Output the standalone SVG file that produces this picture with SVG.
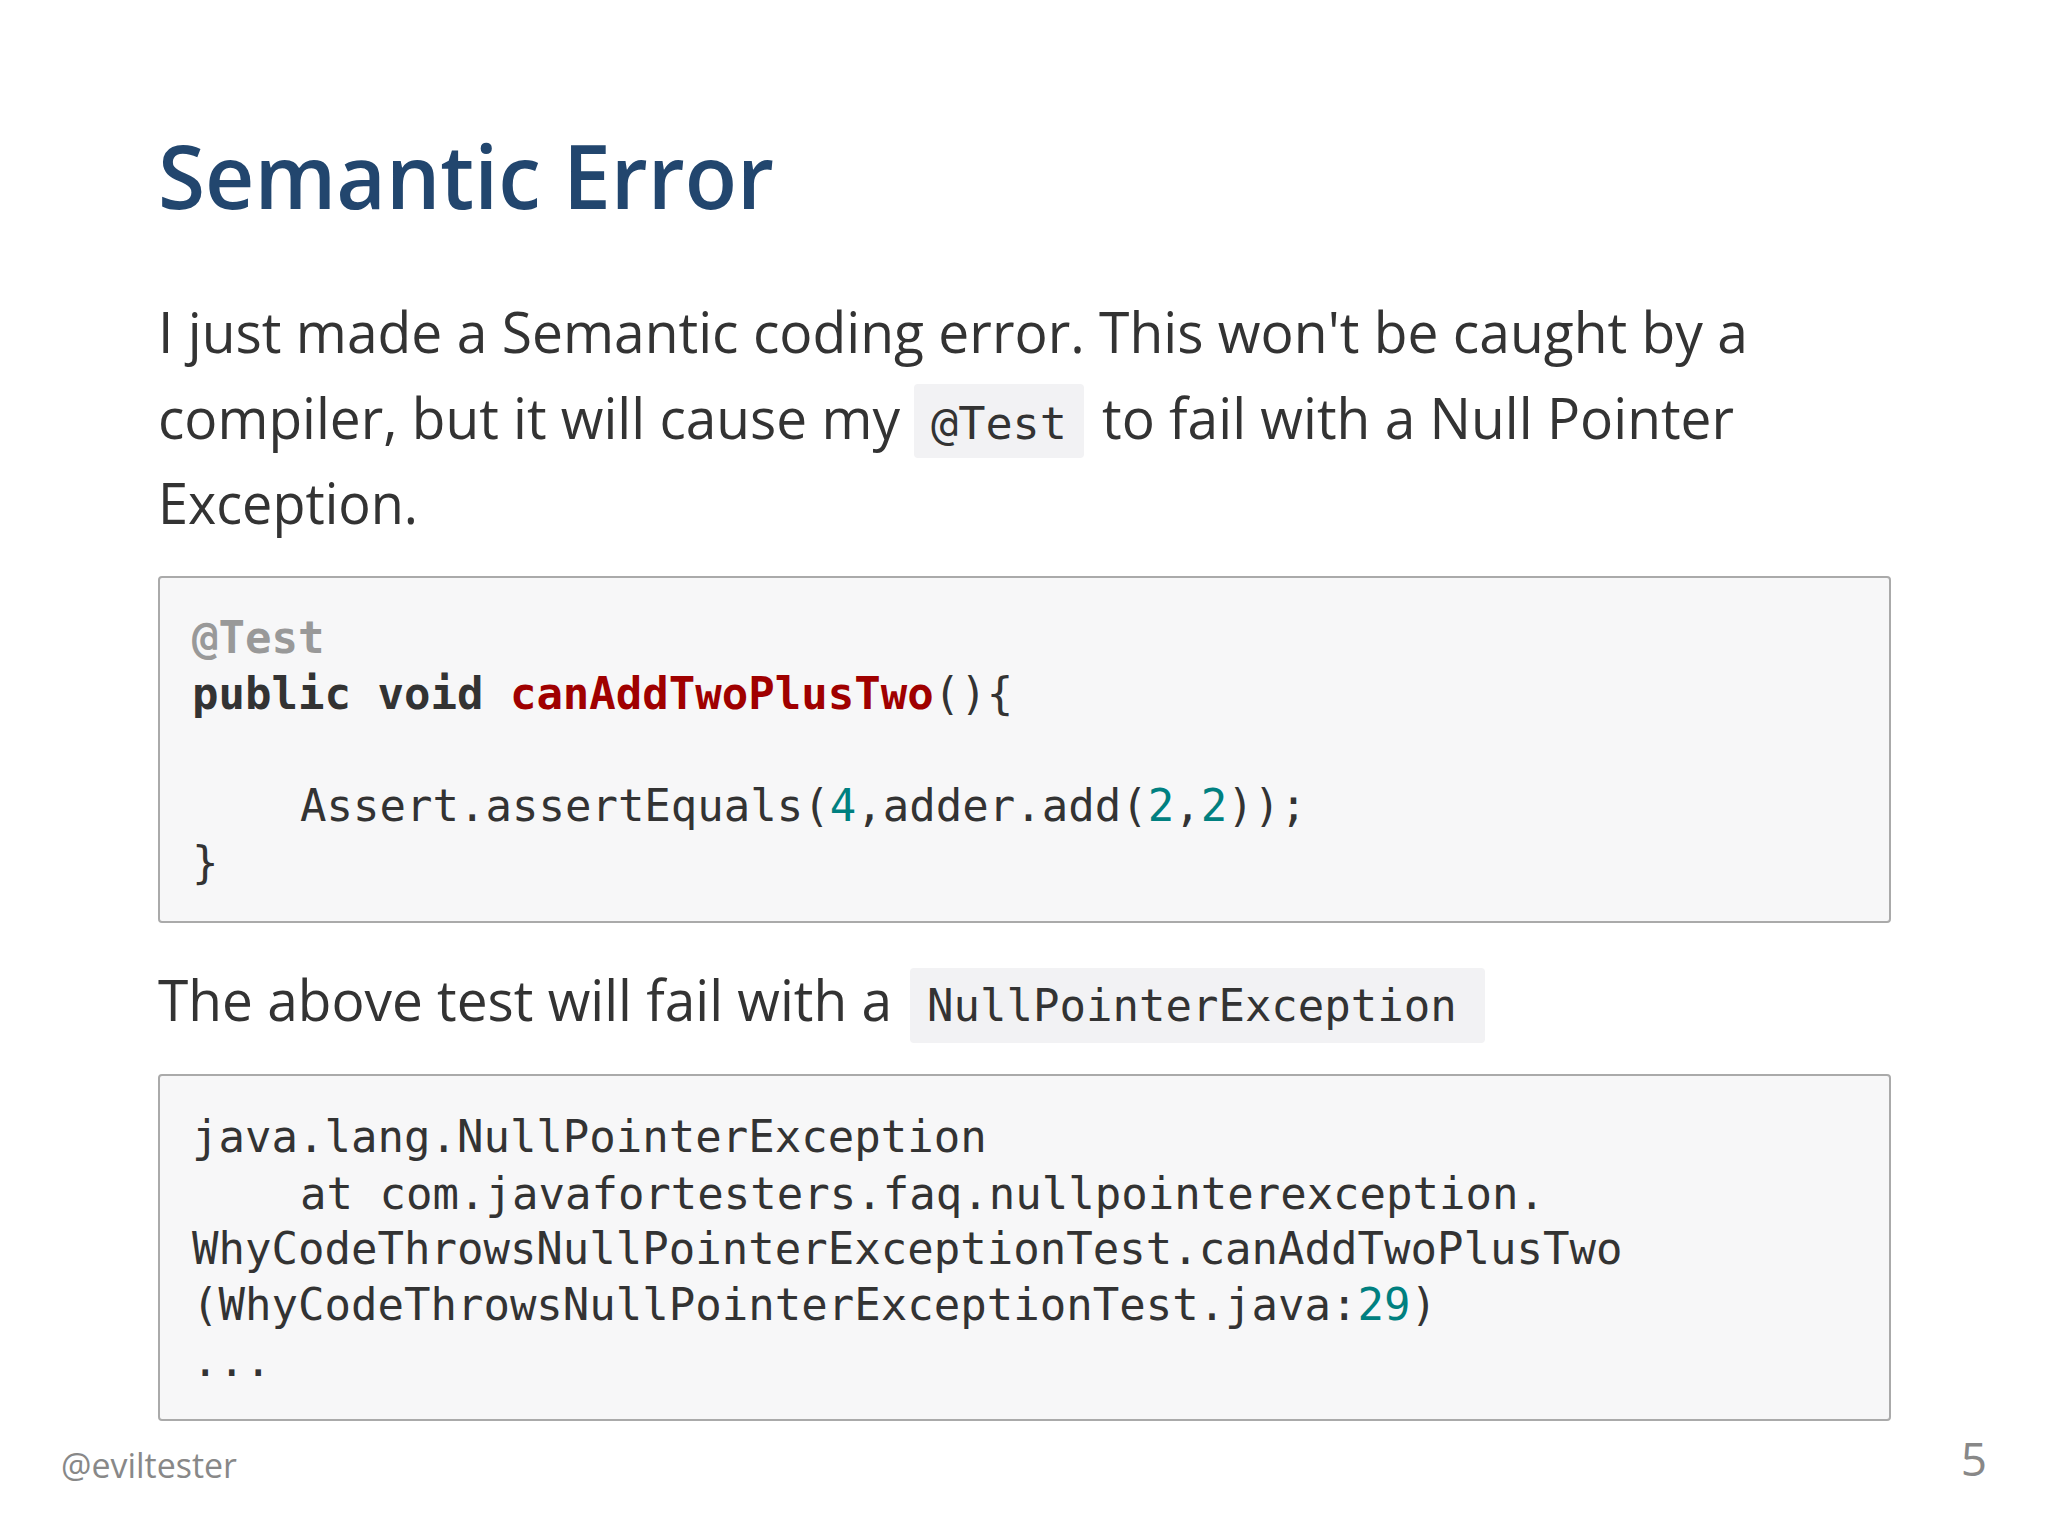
<svg xmlns="http://www.w3.org/2000/svg" width="2048" height="1536" viewBox="0 0 2048 1536">
<style>
.p{font-family:"Open Sans","Noto Sans",sans-serif;font-size:56px;fill:#333}
.m{font-family:"DejaVu Sans Mono","Liberation Mono",monospace;font-size:44px;fill:#333}
.n{fill:#008080}
.box{fill:#f7f7f8;stroke:#aaaaaa;stroke-width:2}
.chip{fill:#f2f2f4}
</style>
<rect width="2048" height="1536" fill="#ffffff"/>
<text x="158" y="209" font-family="Open Sans,Noto Sans,sans-serif" font-size="88" font-weight="600" fill="#22466e" textLength="616" lengthAdjust="spacingAndGlyphs">Semantic Error</text>
<g id="para">
<text class="p" x="158" y="353" textLength="1590" lengthAdjust="spacingAndGlyphs">I just made a Semantic coding error. This won't be caught by a</text>
<text class="p" x="158" y="439" textLength="742" lengthAdjust="spacingAndGlyphs">compiler, but it will cause my</text>
<rect class="chip" x="914" y="384" width="170" height="74" rx="4"/>
<text class="m" x="931" y="439" textLength="136" lengthAdjust="spacingAndGlyphs">@Test</text>
<text class="p" x="1102" y="439" textLength="632" lengthAdjust="spacingAndGlyphs">to fail with a Null Pointer</text>
<text class="p" x="158" y="524" textLength="260" lengthAdjust="spacingAndGlyphs">Exception.</text>
</g>
<g id="code1">
<rect class="box" x="159" y="577" width="1731" height="345" rx="3"/>
<text class="m" x="192" y="653" font-weight="bold" fill="#999999" style="fill:#999">@Test</text>
<text class="m" x="192" y="709" font-weight="bold">public void <tspan fill="#a00000" style="fill:#a00000">canAddTwoPlusTwo</tspan><tspan font-weight="normal">(){</tspan></text>
<text class="m" x="300" y="821">Assert.assertEquals(<tspan class="n">4</tspan>,adder.add(<tspan class="n">2</tspan>,<tspan class="n">2</tspan>));</text>
<text class="m" x="192" y="878">}</text>
</g>
<g id="line2">
<text class="p" x="158" y="1021" textLength="734" lengthAdjust="spacingAndGlyphs">The above test will fail with a</text>
<rect class="chip" x="910" y="968" width="575" height="75" rx="4"/>
<text class="m" x="927" y="1021">NullPointerException</text>
</g>
<g id="code2">
<rect class="box" x="159" y="1075" width="1731" height="345" rx="3"/>
<text class="m" x="192" y="1152">java.lang.NullPointerException</text>
<text class="m" x="300" y="1209">at com.javafortesters.faq.nullpointerexception.</text>
<text class="m" x="192" y="1264">WhyCodeThrowsNullPointerExceptionTest.canAddTwoPlusTwo</text>
<text class="m" x="192" y="1320">(WhyCodeThrowsNullPointerExceptionTest.java:<tspan class="n">29</tspan>)</text>
<text class="m" x="192" y="1376">...</text>
</g>
<text x="61" y="1478" font-family="Open Sans,Noto Sans,sans-serif" font-size="35" fill="#888" textLength="176" lengthAdjust="spacingAndGlyphs">@eviltester</text>
<text x="1987" y="1476" font-family="Open Sans,Noto Sans,sans-serif" font-size="46" fill="#888" text-anchor="end">5</text>
</svg>
